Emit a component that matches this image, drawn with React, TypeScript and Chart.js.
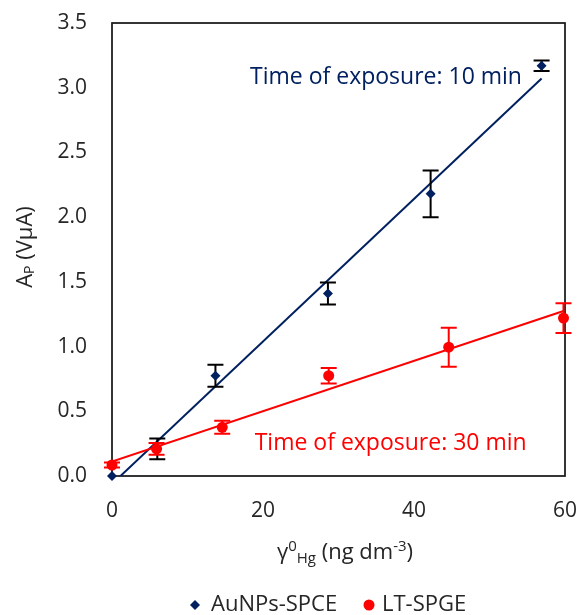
import React, { useEffect, useRef } from "react";
import { Chart, registerables } from "chart.js";
Chart.register(...registerables);

// ---- data ----
const auX = [0, 6, 13.7, 28.6, 42.2, 56.9];
const auY = [0, 0.21, 0.775, 1.41, 2.18, 3.17];
const auErr = [0, 0.08, 0.085, 0.085, 0.18, 0.04];
const ltX = [0, 5.9, 14.6, 28.7, 44.6, 59.8];
const ltY = [0.085, 0.21, 0.376, 0.775, 0.995, 1.22];
const ltErr = [0.02, 0.045, 0.05, 0.06, 0.15, 0.115];
const seriesNames = ["AuNPs-SPCE", "LT-SPGE"];
const xTickValues = [0, 20, 40, 60];
const yTickValues = [0, 0.5, 1, 1.5, 2, 2.5, 3, 3.5];
const noteTexts = ["Time of exposure: 10 min", "Time of exposure: 30 min"];
const noteAnchorX = [54.3, 18.9];
const noteAnchorY = [3.08, 0.255];

const NAVY = "#002060";
const RED = "#ff0000";
const TEXT = "#262626";
const FONT = "'Open Sans', sans-serif";

function linFit(xs: number[], ys: number[]) {
  const n = xs.length;
  const mx = xs.reduce((a, b) => a + b, 0) / n;
  const my = ys.reduce((a, b) => a + b, 0) / n;
  let sxy = 0, sxx = 0;
  for (let i = 0; i < n; i++) {
    sxy += (xs[i] - mx) * (ys[i] - my);
    sxx += (xs[i] - mx) ** 2;
  }
  const m = sxy / sxx;
  const b = my - m * mx;
  return [
    { x: xs[0], y: b + m * xs[0] },
    { x: xs[n - 1], y: b + m * xs[n - 1] },
  ];
}

const errorBarPlugin = {
  id: "errorBars",
  beforeDatasetDraw(chart: any, args: any) {
    const ds = chart.data.datasets[args.index];
    if (!ds.errors) return;
    const ctx = chart.ctx;
    const ys = chart.scales.y;
    ctx.save();
    ctx.strokeStyle = ds.errorColor;
    ctx.lineWidth = 2;
    args.meta.data.forEach((pt: any, i: number) => {
      const e = ds.errors[i];
      if (!e) return;
      const v = ds.data[i].y;
      const t = ys.getPixelForValue(v + e);
      const b = ys.getPixelForValue(v - e);
      ctx.beginPath();
      ctx.moveTo(pt.x, t);
      ctx.lineTo(pt.x, b);
      ctx.moveTo(pt.x - 8, t);
      ctx.lineTo(pt.x + 8, t);
      ctx.moveTo(pt.x - 8, b);
      ctx.lineTo(pt.x + 8, b);
      ctx.stroke();
    });
    ctx.restore();
  },
};

const framePlugin = {
  id: "frame",
  beforeDatasetsDraw(chart: any) {
    const { ctx, chartArea: a } = chart;
    ctx.save();
    ctx.strokeStyle = "#1a1a1a";
    ctx.lineWidth = 1.75;
    ctx.strokeRect(a.left, a.top, a.right - a.left, a.bottom - a.top);
    ctx.restore();
  },
};

type Run = { t: string; size: number; dy: number };
function drawRuns(ctx: CanvasRenderingContext2D, runs: Run[], cx: number, cy: number, color: string) {
  ctx.fillStyle = color;
  ctx.textBaseline = "middle";
  ctx.textAlign = "left";
  let total = 0;
  runs.forEach((r) => {
    ctx.font = `${r.size}px ${FONT}`;
    total += ctx.measureText(r.t).width;
  });
  let x = cx - total / 2;
  runs.forEach((r) => {
    ctx.font = `${r.size}px ${FONT}`;
    ctx.fillText(r.t, x, cy + r.dy);
    x += ctx.measureText(r.t).width;
  });
}

const textPlugin = {
  id: "texts",
  afterDraw(chart: any) {
    const ctx = chart.ctx as CanvasRenderingContext2D;
    const xs = chart.scales.x;
    const ys = chart.scales.y;
    ctx.save();
    // annotations
    ctx.textBaseline = "middle";
    ctx.font = `23px ${FONT}`;
    ctx.fillStyle = NAVY;
    ctx.textAlign = "right";
    ctx.fillText(noteTexts[0], xs.getPixelForValue(noteAnchorX[0]), ys.getPixelForValue(noteAnchorY[0]));
    ctx.fillStyle = RED;
    ctx.textAlign = "left";
    ctx.fillText(noteTexts[1], xs.getPixelForValue(noteAnchorX[1]), ys.getPixelForValue(noteAnchorY[1]));

    // x title
    drawRuns(
      ctx,
      [
        { t: "γ", size: 22, dy: 0 },
        { t: "0", size: 15, dy: -6 },
        { t: "Hg", size: 15, dy: 6 },
        { t: " (ng dm", size: 22, dy: 0 },
        { t: "-3", size: 15, dy: -6 },
        { t: ")", size: 22, dy: 0 },
      ],
      345,
      553,
      TEXT
    );

    // y title (rotated)
    ctx.save();
    ctx.translate(26, 247);
    ctx.rotate(-Math.PI / 2);
    drawRuns(
      ctx,
      [
        { t: "A", size: 22, dy: 0 },
        { t: "P", size: 14, dy: 4 },
        { t: " (VμA)", size: 22, dy: 0 },
      ],
      0,
      0,
      TEXT
    );
    ctx.restore();

    // legend
    const ly = 605;
    ctx.fillStyle = NAVY;
    ctx.beginPath();
    ctx.moveTo(195, ly - 5);
    ctx.lineTo(200, ly);
    ctx.lineTo(195, ly + 5);
    ctx.lineTo(190, ly);
    ctx.closePath();
    ctx.fill();
    ctx.fillStyle = RED;
    ctx.beginPath();
    ctx.arc(369, ly, 5.5, 0, Math.PI * 2);
    ctx.fill();
    ctx.fillStyle = TEXT;
    ctx.font = `22px ${FONT}`;
    ctx.textAlign = "left";
    ctx.textBaseline = "middle";
    ctx.fillText(seriesNames[0], 211, ly);
    ctx.fillText(seriesNames[1], 382, ly);
    ctx.restore();
  },
};

export default function App() {
  const ref = useRef<HTMLCanvasElement>(null);
  useEffect(() => {
    if (!ref.current) return;
    const chart = new Chart(ref.current, {
      type: "scatter",
      data: {
        datasets: [
          {
            label: seriesNames[1],
            data: ltX.map((x, i) => ({ x, y: ltY[i] })),
            backgroundColor: RED,
            borderColor: RED,
            pointStyle: "circle",
            pointRadius: 5.5,
            pointBorderWidth: 0,
            order: 0,
            clip: false,
            errors: ltErr,
            errorColor: RED,
          } as any,
          {
            label: seriesNames[0],
            data: auX.map((x, i) => ({ x, y: auY[i] })),
            backgroundColor: NAVY,
            borderColor: NAVY,
            pointStyle: "rectRot",
            pointRadius: 5,
            pointBorderWidth: 0,
            order: 1,
            clip: false,
            errors: auErr,
            errorColor: "#000000",
          } as any,
          {
            type: "line",
            label: "fit LT",
            data: linFit(ltX, ltY),
            borderColor: RED,
            borderWidth: 2,
            pointRadius: 0,
            showLine: true,
            order: 2,
          } as any,
          {
            type: "line",
            label: "fit Au",
            data: linFit(auX, auY),
            borderColor: NAVY,
            borderWidth: 2,
            pointRadius: 0,
            showLine: true,
            order: 3,
          } as any,
        ],
      },
      options: {
        animation: false,
        responsive: false,
        layout: { padding: { left: 0, top: 23, right: 17, bottom: 0 } },
        plugins: { legend: { display: false }, tooltip: { enabled: false } },
        scales: {
          x: {
            type: "linear",
            min: 0,
            max: 60,
            afterFit: (s: any) => {
              s.height = 139;
              s.paddingLeft = 0;
              s.paddingRight = 0;
            },
            afterBuildTicks: (s: any) => {
              s.ticks = xTickValues.map((v) => ({ value: v }));
            },
            grid: { display: false, drawTicks: false },
            border: { display: false },
            ticks: { padding: 22, color: TEXT, font: { family: FONT, size: 21 } },
          },
          y: {
            type: "linear",
            min: 0,
            max: 3.5,
            afterFit: (s: any) => {
              s.width = 112;
              s.paddingTop = 0;
              s.paddingBottom = 0;
            },
            afterBuildTicks: (s: any) => {
              s.ticks = yTickValues.map((v) => ({ value: v }));
            },
            grid: { display: false, drawTicks: false },
            border: { display: false },
            ticks: {
              padding: 25,
              color: TEXT,
              font: { family: FONT, size: 21 },
              callback: (v: any) => Number(v).toFixed(1),
            },
          },
        },
      },
      plugins: [errorBarPlugin, framePlugin, textPlugin],
    });
    return () => chart.destroy();
  }, []);
  return (
    <div style={{ position: "fixed", left: 0, top: 0, width: 582, height: 615, background: "#fff" }}>
      <canvas ref={ref} width={582} height={615} />
    </div>
  );
}
